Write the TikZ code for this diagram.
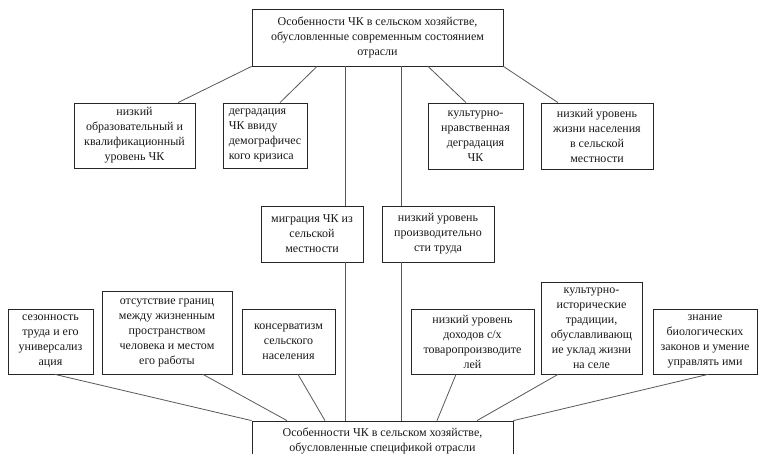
\documentclass[tikz,border=0pt]{standalone}
\usepackage{fontspec}
\setmainfont{Liberation Serif}
\begin{document}
\begin{tikzpicture}[x=1pt,y=-1pt,
  box/.style={draw=black!85, line width=0.8pt, fill=white, inner sep=2pt, align=center,
    font=\fontsize{12}{15}\selectfont, text=black!90},
  link/.style={draw=black!65, line width=0.8pt}]
\clip (0,0) rectangle (758,453);
\fill[white] (0,0) rectangle (758,453);

\node[box, minimum width=251pt, minimum height=57pt] (top) at (377.5,37.5)
  {Особенности ЧК в сельском хозяйстве,\\обусловленные современным состоянием\\отрасли};

\node[box, minimum width=121pt, minimum height=65pt] (a1) at (134.5,135.5)
  {низкий\\образовательный и\\квалификационный\\уровень ЧК};
\node[box, align=left, minimum width=84pt, minimum height=65pt] (a2) at (265,135.5)
  {деградация\\ЧК ввиду\\демографичес\\кого кризиса};
\node[box, minimum width=95pt, minimum height=66pt] (a3) at (475.5,136)
  {культурно-\\нравственная\\деградация\\ЧК};
\node[box, minimum width=112pt, minimum height=66pt] (a4) at (597,136)
  {низкий уровень\\жизни населения\\в сельской\\местности};

\node[box, minimum width=102pt, minimum height=56pt] (m1) at (312,234)
  {миграция ЧК из\\сельской\\местности};
\node[box, minimum width=112pt, minimum height=56pt] (m2) at (438,234)
  {низкий уровень\\производительно\\сти труда};

\node[box, minimum width=85pt, minimum height=65pt] (b1) at (50.5,341.5)
  {сезонность\\труда и его\\универсализ\\ация};
\node[box, minimum width=130pt, minimum height=83pt] (b2) at (167,332.5)
  {отсутствие границ\\между жизненным\\пространством\\человека и местом\\его работы};
\node[box, minimum width=93pt, minimum height=65pt] (b3) at (288.5,341.5)
  {консерватизм\\сельского\\населения};
\node[box, minimum width=123pt, minimum height=65pt] (b4) at (472.5,341.5)
  {низкий уровень\\доходов с/х\\товаропроизводите\\лей};
\node[box, minimum width=101pt, minimum height=92pt] (b5) at (591.5,328)
  {культурно-\\исторические\\традиции,\\обуславливающ\\ие уклад жизни\\на селе};
\node[box, minimum width=104pt, minimum height=65pt] (b6) at (705,341.5)
  {знание\\биологических\\законов и умение\\управлять ими};

\node[box, minimum width=261pt, minimum height=39pt] (bot) at (382.5,440.5)
  {Особенности ЧК в сельском хозяйстве,\\обусловленные спецификой отрасли};

% connectors from the top box
\draw[link] (top.south west) -- ([xshift=43.5pt]a1.north);
\draw[link] ([xshift=-60.5pt]top.south) -- ([xshift=15pt]a2.north);
\draw[link] ([xshift=-32.5pt]top.south) -- ([xshift=33pt]m1.north);
\draw[link] ([xshift=23.5pt]top.south) -- ([xshift=-37pt]m2.north);
\draw[link] ([xshift=50.5pt]top.south) -- ([xshift=-9.5pt]a3.north);
\draw[link] (top.south east) -- ([xshift=-39pt]a4.north);

% connectors to the bottom box
\draw[link] ([xshift=4.5pt]b1.south) -- (bot.north west);
\draw[link] ([xshift=36pt]b2.south) -- ([xshift=-95.5pt]bot.north);
\draw[link] ([xshift=9.5pt]b3.south) -- ([xshift=-57.5pt]bot.north);
\draw[link] ([xshift=33pt]m1.south) -- ([xshift=-37.5pt]bot.north);
\draw[link] ([xshift=-37pt]m2.south) -- ([xshift=18.5pt]bot.north);
\draw[link] ([xshift=-16.5pt]b4.south) -- ([xshift=54.5pt]bot.north);
\draw[link] ([xshift=-33.5pt]b5.south) -- ([xshift=94.5pt]bot.north);
\draw[link] ([xshift=3pt]b6.south) -- (bot.north east);
\end{tikzpicture}
\end{document}
